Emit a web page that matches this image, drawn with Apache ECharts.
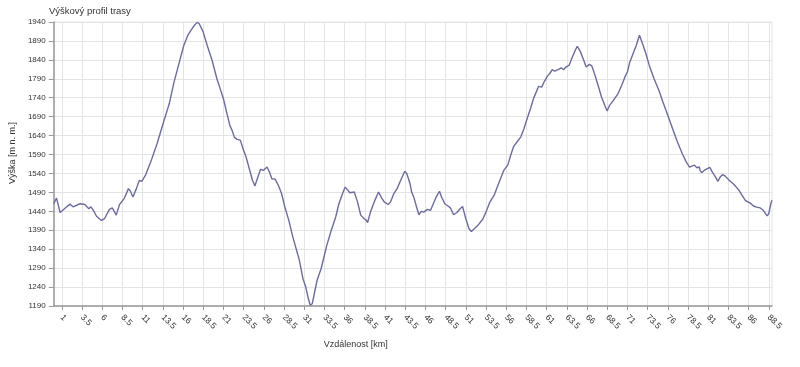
<!DOCTYPE html>
<html>
<head>
<meta charset="utf-8">
<script src="https://cdn.jsdelivr.net/npm/echarts@6/dist/echarts.min.js"></script>
<style>
html,body{margin:0;padding:0;background:#fff;}
#chart{width:800px;height:367px;}
</style>
</head>
<body>
<div id="chart"></div>
<script>
const titleText = 'Výškový profil trasy';
const xAxisName = 'Vzdálenost [km]';
const yAxisName = 'Výška [m n. m.]';

const distKm = [
  0, 0.35, 0.8, 1.4, 2.0, 2.4, 3.25, 3.86, 4.35, 4.6, 4.9, 5.3, 5.9, 6.3, 6.9, 7.25, 7.74, 8.15, 8.76, 9.25,
  9.5, 9.8, 10.2, 10.6, 10.9, 11.4, 12.0, 12.8, 13.6, 14.3, 14.9, 15.5, 16.1, 16.6, 16.9, 17.1, 17.4, 17.75, 18.0, 18.5,
  19.0, 19.6, 20.2, 20.6, 21.0, 21.4, 21.8, 22.07, 22.36, 22.7, 23.1, 23.4, 23.8, 24.2, 24.6, 24.9, 25.2, 25.6, 25.95, 26.4,
  26.7, 27.0, 27.4, 27.8, 28.2, 28.6, 29.1, 29.6, 30.0, 30.4, 30.85, 31.2, 31.5, 31.75, 32.0, 32.3, 32.6, 33.1, 33.5, 33.8,
  34.3, 34.9, 35.3, 35.75, 36.08, 36.4, 36.65, 37.2, 37.6, 38.0, 38.4, 38.7, 38.85, 39.2, 39.75, 40.2, 40.6, 40.9, 41.4, 41.7,
  42.1, 42.5, 42.95, 43.45, 43.7, 44.1, 44.3, 44.6, 44.9, 45.2, 45.5, 45.8, 46.25, 46.65, 46.9, 47.35, 47.75, 48.0, 48.4, 48.8,
  49.1, 49.5, 49.9, 50.3, 50.6, 51.0, 51.4, 51.7, 52.05, 52.5, 53.1, 53.5, 54.0, 54.5, 54.9, 55.3, 55.7, 56.2, 56.5, 56.9,
  57.4, 57.8, 58.2, 58.6, 59.0, 59.4, 59.9, 60.0, 60.4, 60.7, 61.1, 61.4, 61.7, 62.0, 62.2, 62.5, 62.8, 63.1, 63.4, 63.6,
  63.8, 64.1, 64.5, 64.8, 65.2, 65.6, 65.9, 66.3, 66.6, 67.0, 67.4, 67.8, 68.2, 68.5, 68.8, 69.2, 69.4, 69.85, 70.3, 70.7,
  71.0, 71.3, 71.7, 72.1, 72.3, 72.5, 72.8, 73.3, 73.7, 74.3, 74.9, 75.4, 76.0, 76.6, 77.2, 77.8, 78.3, 78.7, 78.9, 79.3,
  79.6, 79.9, 80.0, 80.2, 80.5, 80.9, 81.2, 81.5, 81.9, 82.2, 82.5, 82.8, 83.1, 83.6, 84.2, 84.8, 85.2, 85.6, 85.9, 86.2,
  86.6, 87.0, 87.45, 87.8, 88.1, 88.3, 88.5, 88.75, 88.9
];
const elevM = [
  1460, 1475, 1437, 1448, 1459, 1452, 1460, 1458, 1447, 1452, 1443, 1427, 1416, 1421, 1445, 1449, 1430, 1458, 1475, 1500,
  1493, 1478, 1498, 1522, 1519, 1537, 1570, 1619, 1676, 1724, 1782, 1830, 1878, 1905, 1915, 1912, 1931, 1939, 1936, 1914,
  1878, 1839, 1790, 1764, 1738, 1702, 1667, 1654, 1636, 1630, 1628, 1607, 1584, 1553, 1522, 1507, 1526, 1551, 1548, 1557,
  1544, 1526, 1525, 1509, 1487, 1452, 1416, 1372, 1342, 1311, 1262, 1240, 1211, 1192, 1196, 1227, 1258, 1289, 1324, 1350,
  1386, 1425, 1460, 1487, 1504, 1496, 1489, 1491, 1465, 1430, 1421, 1416, 1410, 1438, 1469, 1491, 1475, 1465, 1458, 1465,
  1487, 1500, 1522, 1546, 1540, 1513, 1491, 1475, 1452, 1431, 1440, 1438, 1445, 1443, 1456, 1478, 1493, 1478, 1460, 1454,
  1449, 1431, 1437, 1447, 1453, 1421, 1394, 1387, 1394, 1403, 1419, 1438, 1465, 1482, 1504, 1526, 1548, 1562, 1584, 1610,
  1625, 1636, 1658, 1685, 1711, 1739, 1764, 1770, 1768, 1782, 1797, 1804, 1814, 1810, 1805, 1815, 1819, 1814, 1821, 1819,
  1826, 1843, 1863, 1876, 1861, 1839, 1821, 1828, 1824, 1799, 1771, 1742, 1720, 1705, 1720, 1731, 1729, 1751, 1773, 1795,
  1808, 1834, 1856, 1878, 1892, 1905, 1887, 1856, 1826, 1790, 1760, 1729, 1694, 1658, 1623, 1592, 1570, 1557, 1555, 1562,
  1555, 1557, 1548, 1542, 1548, 1553, 1556, 1544, 1531, 1519, 1531, 1537, 1533, 1522, 1511, 1496, 1482, 1469, 1465, 1462,
  1454, 1451, 1449, 1443, 1434, 1428, 1434, 1460, 1469
];
const xTickValues = [1, 3.5, 6, 8.5, 11, 13.5, 16, 18.5, 21, 23.5, 26, 28.5, 31, 33.5, 36, 38.5, 41, 43.5, 46, 48.5,
  51, 53.5, 56, 58.5, 61, 63.5, 66, 68.5, 71, 73.5, 76, 78.5, 81, 83.5, 86, 88.5];
const yTickValues = [1190, 1240, 1290, 1340, 1390, 1440, 1490, 1540, 1590, 1640, 1690, 1740, 1790, 1840, 1890, 1940];
const xMin = 0, xMax = 88.9;
const yMin = 1190, yMax = 1940;

const font = 'Liberation Sans, Arial, sans-serif';
const chart = echarts.init(document.getElementById('chart'), null, {renderer: 'canvas'});
chart.setOption({
  animation: false,
  backgroundColor: '#ffffff',
  title: {
    text: titleText, left: 44, top: 1,
    textStyle: {fontFamily: font, fontSize: 9.5, fontWeight: 'normal', color: '#333'}
  },
  grid: {left: 47, right: 28, top: 22, bottom: 61, show: true, borderColor: '#e4e4e4', borderWidth: 1},
  xAxis: {
    type: 'value', min: xMin, max: xMax,
    name: xAxisName, nameLocation: 'middle', nameGap: 34,
    nameTextStyle: {fontFamily: font, fontSize: 9, color: '#333', padding: [0, 114, 0, 0]},
    axisLine: {show: true, lineStyle: {color: '#999', width: 1.5}},
    axisTick: {show: true, length: 4, lineStyle: {color: '#999'}, customValues: xTickValues},
    axisLabel: {customValues: xTickValues, rotate: -45, margin: 10, fontFamily: font, fontSize: 8.5, color: '#333',
      formatter: v => String(v)},
    splitLine: {show: true, lineStyle: {color: '#e4e4e4', width: 1}}
  },
  yAxis: {
    type: 'value', min: yMin, max: yMax,
    name: yAxisName, nameLocation: 'middle', nameGap: 35, nameRotate: 90,
    nameTextStyle: {fontFamily: font, fontSize: 9, color: '#333', padding: [0, 0, 0, 22]},
    axisLine: {show: true, lineStyle: {color: '#999', width: 1.5}},
    axisTick: {show: true, length: 5, lineStyle: {color: '#999'}, customValues: yTickValues},
    axisLabel: {customValues: yTickValues, margin: 8, fontFamily: font, fontSize: 8, color: '#333',
      formatter: v => String(v)},
    splitLine: {show: true, lineStyle: {color: '#e4e4e4', width: 1}}
  },
  series: [{
    type: 'line',
    data: distKm.map((d, i) => [d, elevM[i]]),
    showSymbol: false,
    smooth: false,
    lineStyle: {color: '#6c6c9c', width: 1.4}
  }]
});
</script>
</body>
</html>
